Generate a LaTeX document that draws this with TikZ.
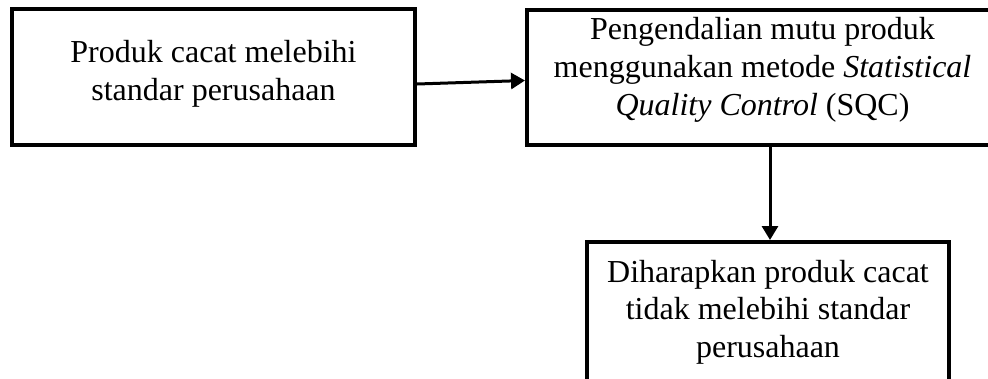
\documentclass[tikz,border=0pt]{standalone}
\usepackage{fontspec}
\setmainfont{Liberation Serif}
\usetikzlibrary{arrows.meta}
\begin{document}
\begin{tikzpicture}[x=1pt,y=-1pt,
  boxline/.style={draw=black,line width=4pt,inner sep=0pt},
  label/.style={inner sep=0pt,align=center,font=\fontsize{32}{37.7}\selectfont},
  link/.style={draw=black,line width=3pt,-{Triangle[length=14pt,width=16pt]}}]
\useasboundingbox (0,0) rectangle (988,378);
\fill[white] (0,0) rectangle (988,378);
\node[boxline, minimum width=403pt, minimum height=136pt] (b1) at (213.5,77) {};
\node[boxline, minimum width=471pt, minimum height=135pt] (b2) at (762.5,77.5) {};
\node[boxline, minimum width=362pt, minimum height=148pt] (b3) at (768,316) {};
\node[label] (t1) at (213.5,73.5) {Produk cacat melebihi\\standar perusahaan};
\node[label] (t2) at (762.5,70) {Pengendalian mutu produk\\menggunakan metode \textit{Statistical}\\\textit{Quality Control} (SQC)};
\node[label] (t3) at (768,312) {Diharapkan produk cacat\\tidak melebihi standar\\perusahaan};
\draw[link] ([yshift=-7pt]b1.east) -- ([yshift=-3pt]b2.west);
\draw[link] ([xshift=7.5pt]b2.south) -- ([xshift=2pt]b3.north);
\end{tikzpicture}
\end{document}
